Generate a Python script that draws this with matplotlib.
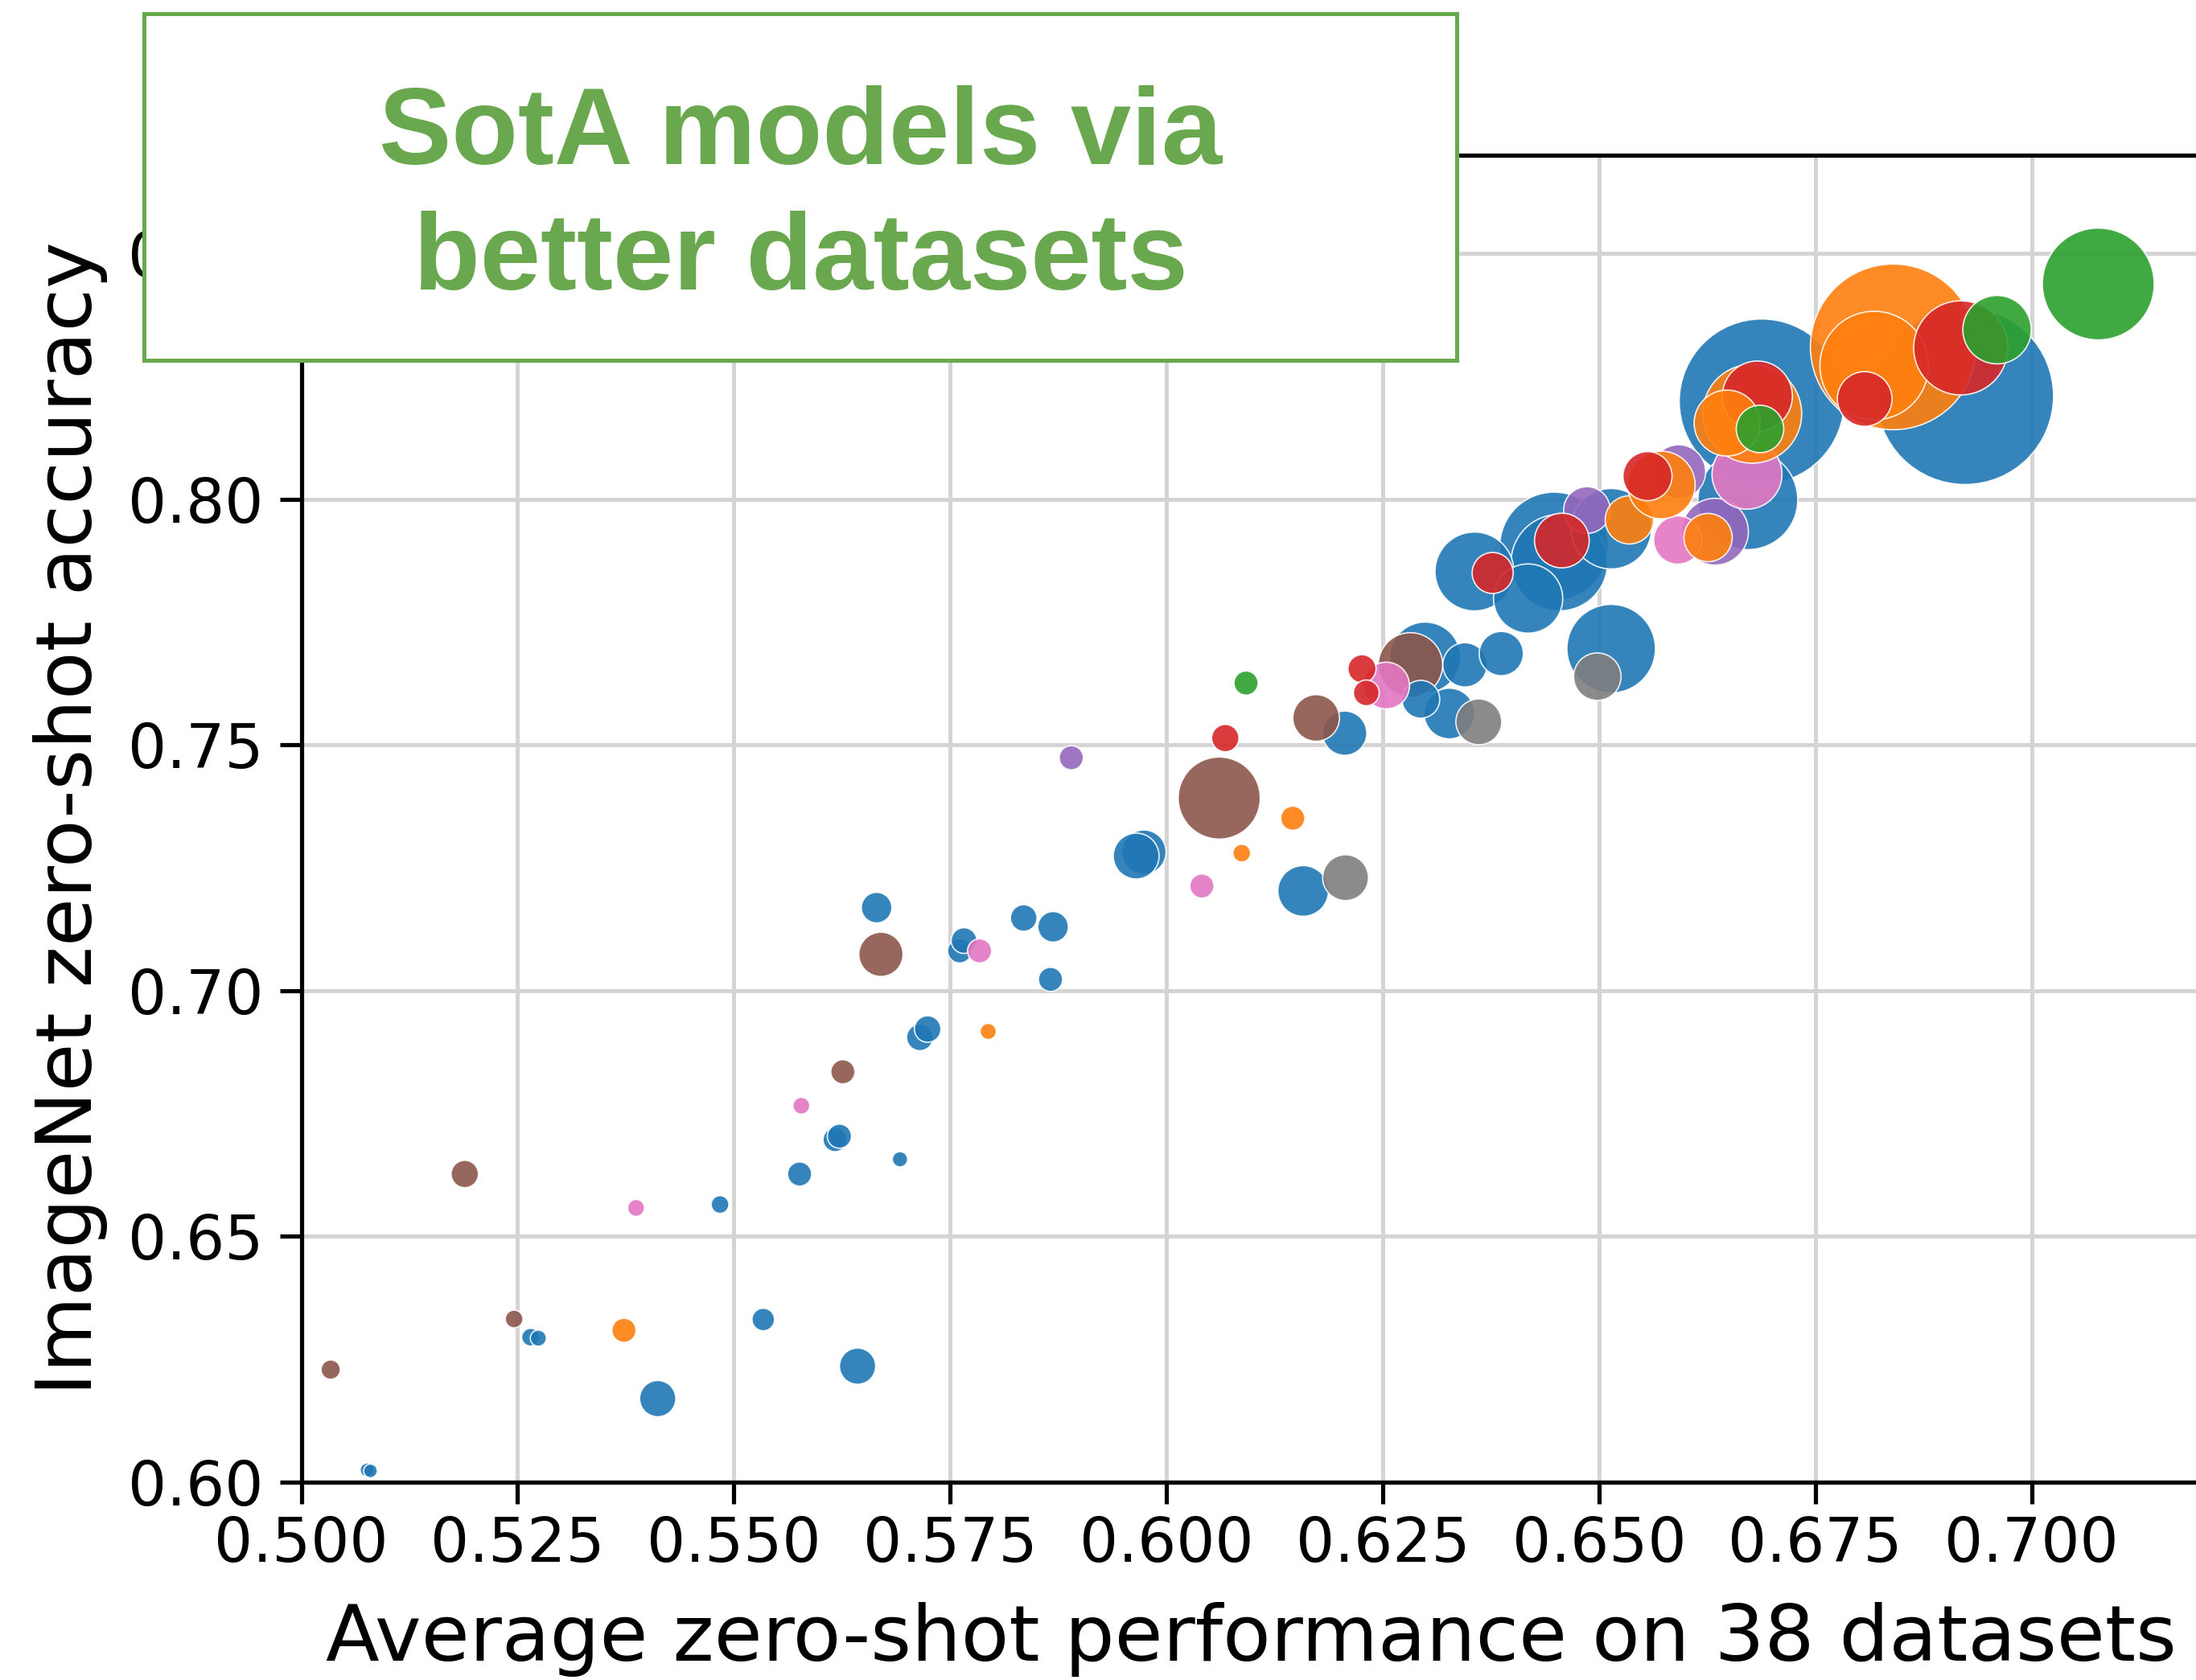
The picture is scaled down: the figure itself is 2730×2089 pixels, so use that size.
import numpy as np
import matplotlib
matplotlib.use("Agg")
import matplotlib.pyplot as plt
from matplotlib.patches import Rectangle

DPI = 300
W, H = 2730, 2089

# points in drawing order (later ones sit on top)
perf = [
    0.5076, 0.5080, 0.5265, 0.5274, 0.5412, 0.5484, 0.5534, 0.5576, 0.5617, 0.5622,
    0.5643, 0.5692, 0.5665, 0.5715, 0.5724, 0.5761, 0.5766, 0.5835, 0.5869, 0.5866,
    0.5974, 0.5965, 0.6158, 0.6206,
    0.5034, 0.5189, 0.5246, 0.5626, 0.5670, 0.6061, 0.6173,
    0.6299, 0.6282, 0.6327, 0.6294, 0.6345, 0.6387,
    0.6207, 0.6361, 0.6514, 0.6498,
    0.6448, 0.6454, 0.6514, 0.6356, 0.6418, 0.6923, 0.6688, 0.6672,
    0.5387, 0.5578, 0.5784, 0.6041, 0.6254,
    0.6068, 0.6226, 0.6231, 0.6377,
    0.6092,
    0.5373, 0.5794, 0.6087, 0.6146,
    0.5890, 0.6634, 0.6592, 0.6486,
    0.6457, 0.6591,
    0.6535, 0.6626, 0.6572, 0.6556, 0.6671,
    0.6677, 0.6683, 0.6648, 0.6686,
    0.6840, 0.6818, 0.6807, 0.6918, 0.6960, 0.7077,
]
acc = [
    0.6025, 0.6023, 0.6295, 0.6293, 0.6170, 0.6565, 0.6331, 0.6627, 0.6697, 0.6704,
    0.6236, 0.6657, 0.7169, 0.6905, 0.6922, 0.7081, 0.7102, 0.7148, 0.7130, 0.7023,
    0.7282, 0.7274, 0.7203, 0.7524,
    0.6229, 0.6627, 0.6332, 0.6835, 0.7074, 0.7392, 0.7555,
    0.7678, 0.7663, 0.7564, 0.7593, 0.7663, 0.7686,
    0.7230, 0.7547, 0.7696, 0.7639,
    0.7904, 0.7871, 0.7940, 0.7853, 0.7798, 0.8210, 0.8199, 0.7999,
    0.6558, 0.6766, 0.7081, 0.7213, 0.7621,
    0.7514, 0.7655, 0.7606, 0.7850,
    0.7626,
    0.6309, 0.6917, 0.7280, 0.7351,
    0.7474, 0.7934, 0.8056, 0.7978,
    0.7916, 0.7917,
    0.7958, 0.7922, 0.8029, 0.8047, 0.8051,
    0.8174, 0.8210, 0.8155, 0.8143,
    0.8310, 0.8272, 0.8204, 0.8308, 0.8345, 0.8438,
]
# bubble diameter (pixels in the 300 dpi output)
bubble = [
    17, 17, 22, 20, 45, 22, 28, 30, 30, 30,
    45, 19, 38, 33, 33, 30, 32, 33, 38, 30,
    55, 57, 63, 55,
    24, 34, 22, 30, 55, 102, 58,
    88, 80, 63, 47, 55, 55,
    57, 57, 110, 59,
    135, 120, 100, 98, 86, 220, 205, 124,
    21, 21, 30, 30, 58,
    34, 35, 32, 51,
    30,
    30, 20, 22, 30,
    30, 83, 67, 58,
    68, 60,
    60, 60, 84, 61, 87,
    123, 87, 82, 59,
    206, 135, 68, 117, 85, 139,
]
# 0 blue, 1 orange, 2 green, 3 red, 4 purple, 5 brown, 6 pink, 7 gray
group = [
    0, 0, 0, 0, 0, 0, 0, 0, 0, 0,
    0, 0, 0, 0, 0, 0, 0, 0, 0, 0,
    0, 0, 0, 0,
    5, 5, 5, 5, 5, 5, 5,
    0, 5, 0, 0, 0, 0,
    7, 7, 0, 7,
    0, 0, 0, 0, 0, 0, 0, 0,
    6, 6, 6, 6, 6,
    3, 3, 3, 3,
    2,
    1, 1, 1, 1,
    4, 4, 4, 4,
    3, 6,
    1, 1, 1, 3, 6,
    1, 3, 1, 2,
    1, 1, 3, 3, 2, 2,
]

palette = ["#1f77b4", "#ff7f0e", "#2ca02c", "#d62728",
           "#9467bd", "#8c564b", "#e377c2", "#7f7f7f"]

fig = plt.figure(figsize=(W / DPI, H / DPI), dpi=DPI)
x0, x1 = 0.5, 0.7195
px_per_unit = 268.9 / 0.025
ax = fig.add_axes([374.5 / W, 246 / H, (x1 - x0) * px_per_unit / W, 1650 / H])

sizes = [(d * 72 / DPI) ** 2 for d in bubble]
colors = [palette[g] for g in group]
ax.scatter(perf, acc, s=sizes, c=colors, alpha=0.9,
           edgecolors="white", linewidths=0.4, zorder=3)

ax.set_xlim(x0, x1)
ax.set_ylim(0.6, 0.87)
ax.set_xticks(np.arange(0.5, 0.7001, 0.025))
ax.set_yticks(np.arange(0.6, 0.8501, 0.05))
ax.xaxis.set_major_formatter(matplotlib.ticker.FormatStrFormatter("%.3f"))
ax.yaxis.set_major_formatter(matplotlib.ticker.FormatStrFormatter("%.2f"))
ax.tick_params(axis="both", labelsize=18.2, length=6.4, width=1.25, color="black")
ax.tick_params(axis="y", pad=5)
ax.grid(True, color="#d4d4d4", linewidth=1.2)
ax.set_axisbelow(True)
for side in ["left", "bottom", "top"]:
    ax.spines[side].set_linewidth(1.25)
    ax.spines[side].set_color("black")
ax.spines["right"].set_visible(False)

ax.set_xlabel("Average zero-shot performance on 38 datasets", fontsize=23.4, labelpad=8)
ax.set_ylabel("ImageNet zero-shot accuracy", fontsize=23.4, labelpad=6)

# callout box
box = Rectangle((179 / W, 1 - 448 / H), 1632 / W, 431 / H, transform=fig.transFigure,
                facecolor="white", edgecolor="#6aa84f", linewidth=1.2, zorder=10)
fig.add_artist(box)
fig.text(995 / W, 1 - 247 / H, "SotA models via\nbetter datasets", ha="center", va="center",
         fontsize=32.5, fontweight="bold", family="Liberation Sans", color="#6aa84f",
         linespacing=1.31, zorder=11)

fig.savefig("out.png", dpi=DPI)
